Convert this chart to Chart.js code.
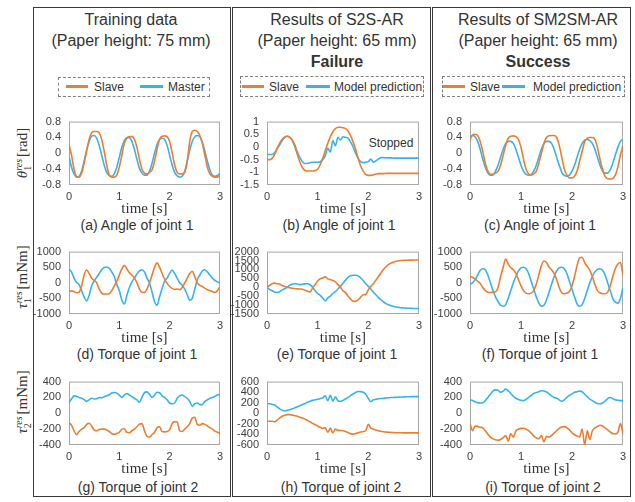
<!DOCTYPE html>
<html>
<head>
<meta charset="utf-8">
<script src="https://cdn.jsdelivr.net/npm/chart.js@4.4.1/dist/chart.umd.min.js"></script>
<style>
  body { margin: 0; width: 635px; height: 502px; position: relative; overflow: hidden; background: #fff;
         font-family: "Liberation Sans", Arial, sans-serif; color: #333; }
  .col { position: absolute; top: 7px; height: 490px; border: 1.3px solid #3a3a3a; box-sizing: border-box; }
  .title { position: absolute; font-size: 16px; line-height: 21px; text-align: center; white-space: nowrap; transform: translateX(-50%); }
  .legend { position: absolute; border: 1px dashed #808080; box-sizing: border-box; }
  .sw { position: absolute; height: 3px; }
  .lt { position: absolute; font-size: 12px; line-height: 14px; white-space: nowrap; transform: translateY(-50%); }
  .cap { position: absolute; font-size: 14px; white-space: nowrap; transform: translate(-50%, -50%); }
  .ylab { position: absolute; font-family: "Liberation Serif", serif; font-size: 15px; white-space: nowrap;
          transform: translate(-50%, -50%) rotate(-90deg); }
  .ss { display: inline-block; vertical-align: -4px; font-size: 10px; line-height: 9px; margin-right: 2px; }
  .ss span { display: block; }
  canvas { position: absolute; }
</style>
</head>
<body>
<div class="col" style="left:33px;width:198px"></div>
<div class="col" style="left:232px;width:199px"></div>
<div class="col" style="left:432px;width:199px"></div>

<div class="title" style="left:131px;top:9px">Training data<br>(Paper height: 75 mm)</div>
<div class="title" style="left:337px;top:9px">Results of S2S-AR<br>(Paper height: 65 mm)<br><b>Failure</b></div>
<div class="title" style="left:538px;top:9px">Results of SM2SM-AR<br>(Paper height: 65 mm)<br><b>Success</b></div>

<div class="legend" style="left:58px;top:77px;width:152px;height:20px"></div>
<div class="sw" style="left:66px;top:85px;width:22px;background:#ED7D31"></div>
<div class="lt" style="left:94px;top:87px">Slave</div>
<div class="sw" style="left:140px;top:85px;width:23px;background:#36B3EE"></div>
<div class="lt" style="left:168px;top:87px">Master</div>

<div class="legend" style="left:240px;top:76px;width:184px;height:21px"></div>
<div class="sw" style="left:242px;top:85px;width:22px;background:#ED7D31"></div>
<div class="lt" style="left:269px;top:87px">Slave</div>
<div class="sw" style="left:306px;top:85px;width:24px;background:#36B3EE"></div>
<div class="lt" style="left:334px;top:87px">Model prediction</div>

<div class="legend" style="left:442px;top:76px;width:183px;height:21px"></div>
<div class="sw" style="left:443px;top:85px;width:22px;background:#ED7D31"></div>
<div class="lt" style="left:470px;top:87px">Slave</div>
<div class="sw" style="left:502px;top:85px;width:23px;background:#36B3EE"></div>
<div class="lt" style="left:533px;top:87px">Model prediction</div>

<div class="ylab" style="left:23px;top:153px"><i>θ</i><span class="ss"><span><i>res</i></span><span>1</span></span>[rad]</div>
<div class="ylab" style="left:23px;top:277px"><i>τ</i><span class="ss"><span><i>res</i></span><span>1</span></span>[mNm]</div>
<div class="ylab" style="left:23px;top:402px"><i>τ</i><span class="ss"><span><i>res</i></span><span>2</span></span>[mNm]</div>

<div class="cap" style="left:137px;top:225px">(a) Angle of joint 1</div>
<div class="cap" style="left:339px;top:225px">(b) Angle of joint 1</div>
<div class="cap" style="left:540px;top:225px">(c) Angle of joint 1</div>
<div class="cap" style="left:137px;top:354px">(d) Torque of joint 1</div>
<div class="cap" style="left:337px;top:354px">(e) Torque of joint 1</div>
<div class="cap" style="left:540px;top:354px">(f) Torque of joint 1</div>
<div class="cap" style="left:138px;top:487px">(g) Torque of joint 2</div>
<div class="cap" style="left:341px;top:487px">(h) Torque of joint 2</div>
<div class="cap" style="left:543px;top:487px">(i) Torque of joint 2</div>

<div class="cap" style="left:391px;top:143px;font-size:12px">Stopped</div>

<script>
const timeSec = [0, 0.05, 0.1, 0.15, 0.2, 0.25, 0.3, 0.35, 0.4, 0.45, 0.5, 0.55, 0.6, 0.65, 0.7, 0.75, 0.8, 0.85, 0.9, 0.95,
    1, 1.05, 1.1, 1.15, 1.2, 1.25, 1.3, 1.35, 1.4, 1.45, 1.5, 1.55, 1.6, 1.65, 1.7, 1.75, 1.8, 1.85, 1.9, 1.95,
    2, 2.05, 2.1, 2.15, 2.2, 2.25, 2.3, 2.35, 2.4, 2.45, 2.5, 2.55, 2.6, 2.65, 2.7, 2.75, 2.8, 2.85, 2.9, 2.95, 3];
const timeTicks = [0, 1, 2, 3];

const angleTicks = [-0.8, -0.4, 0, 0.4, 0.8];
const angleFailTicks = [-1.5, -1, -0.5, 0, 0.5, 1];
const torque1Ticks = [-1000, -500, 0, 500, 1000];
const torque1FailTicks = [-1500, -1000, -500, 0, 500, 1000, 1500, 2000];
const torque2Ticks = [-400, -200, 0, 200, 400];
const torque2FailTicks = [-600, -400, -200, 0, 200, 400, 600];

// (a) training angle
const trainAngleSlave = [0.22, -0.05, -0.4, -0.58, -0.6, -0.5, -0.25, 0.05, 0.35, 0.52,
    0.55, 0.55, 0.52, 0.35, 0.05, -0.3, -0.55, -0.6, -0.6, -0.55,
    -0.35, -0.05, 0.25, 0.38, 0.42, 0.42, 0.35, 0.15, -0.15, -0.4,
    -0.5, -0.52, -0.48, -0.42, -0.2, 0.1, 0.35, 0.43, 0.44, 0.42,
    0.3, 0.02, -0.3, -0.48, -0.52, -0.52, -0.48, -0.2, 0.3, 0.55,
    0.58, 0.55, 0.45, 0.25, -0.05, -0.35, -0.52, -0.58, -0.6, -0.6, -0.55];
const trainAngleMaster = [-0.08, -0.35, -0.52, -0.6, -0.58, -0.45, -0.2, 0.08, 0.3, 0.43,
    0.45, 0.38, 0.2, -0.05, -0.3, -0.48, -0.56, -0.58, -0.52, -0.35,
    -0.1, 0.15, 0.32, 0.4, 0.39, 0.3, 0.1, -0.15, -0.38, -0.5,
    -0.55, -0.55, -0.45, -0.25, 0, 0.22, 0.35, 0.38, 0.35, 0.2,
    -0.05, -0.3, -0.48, -0.57, -0.6, -0.58, -0.45, -0.2, 0.08, 0.3,
    0.42, 0.45, 0.42, 0.28, 0.05, -0.2, -0.42, -0.55, -0.58, -0.56, -0.5];

// (b) S2S-AR angle
const s2sAngleSlave = [-0.5, -0.5, -0.45, -0.3, -0.05, 0.15, 0.3, 0.4, 0.42, 0.38,
    0.25, 0, -0.3, -0.6, -0.82, -0.93, -0.95, -0.95, -0.95, -0.93,
    -0.88, -0.7, -0.45, -0.15, 0.15, 0.4, 0.6, 0.72, 0.78, 0.78,
    0.76, 0.72, 0.62, 0.45, 0.2, -0.1, -0.45, -0.75, -0.95, -1.08,
    -1.12, -1.12, -1.1, -1.07, -1.05, -1.05, -1.05, -1.04, -1.04, -1.04,
    -1.04, -1.04, -1.04, -1.04, -1.04, -1.04, -1.04, -1.04, -1.04, -1.04, -1.04];
const s2sAnglePred = [-0.3, -0.3, -0.3, -0.22, -0.08, 0.08, 0.25, 0.38, 0.42, 0.38,
    0.28, 0.08, -0.2, -0.42, -0.58, -0.65, -0.65, -0.62, -0.6, -0.6,
    -0.6, -0.58, -0.5, -0.35, -0.05, -0.2, 0.25, 0.05, 0.38, 0.28,
    0.4, 0.38, 0.35, 0.2, 0, -0.25, -0.45, -0.58, -0.62, -0.6,
    -0.58, -0.48, -0.6, -0.55, -0.48, -0.42, -0.42, -0.43, -0.43, -0.43,
    -0.44, -0.44, -0.44, -0.44, -0.44, -0.44, -0.44, -0.44, -0.44, -0.44, -0.44];

// (c) SM2SM-AR angle
const sm2smAngleSlave = [0.35, 0.46, 0.48, 0.45, 0.3, 0.05, -0.25, -0.45, -0.53, -0.53,
    -0.5, -0.45, -0.3, -0.05, 0.2, 0.38, 0.43, 0.44, 0.42, 0.35,
    0.15, -0.15, -0.4, -0.52, -0.55, -0.52, -0.45, -0.25, 0, 0.25,
    0.4, 0.44, 0.45, 0.45, 0.4, 0.2, -0.1, -0.4, -0.55, -0.62,
    -0.62, -0.58, -0.45, -0.2, 0.05, 0.3, 0.38, 0.4, 0.4, 0.35,
    0.15, -0.15, -0.4, -0.58, -0.64, -0.65, -0.63, -0.55, -0.35, -0.05, 0.2];
const sm2smAnglePred = [0.4, 0.45, 0.42, 0.3, 0.1, -0.15, -0.35, -0.5, -0.55, -0.55,
    -0.45, -0.3, -0.1, 0.1, 0.25, 0.3, 0.3, 0.25, 0.1, -0.1,
    -0.3, -0.45, -0.53, -0.55, -0.53, -0.45, -0.3, -0.1, 0.1, 0.25,
    0.3, 0.3, 0.25, 0.1, -0.1, -0.3, -0.48, -0.56, -0.58, -0.55,
    -0.45, -0.3, -0.1, 0.1, 0.25, 0.33, 0.35, 0.32, 0.25, 0.1,
    -0.1, -0.3, -0.45, -0.5, -0.5, -0.42, -0.25, -0.05, 0.15, 0.3, 0.35];

// (d) training torque 1
const trainTorque1Slave = [-290, -260, -280, -320, -300, -100, 250, 410, 300, 150,
    80, 0, -200, -330, -360, -360, -350, -250, -100, 50,
    250, 450, 560, 450, 320, 250, 150, 0, -200, -300,
    -310, -200, 0, 250, 500, 640, 500, 300, 120, -20,
    -120, -180, -210, -200, -220, -150, 0, 150, 300, 370,
    200, 0, -80, -120, -180, -220, -250, -280, -310, -250, -130];
const trainTorque1Master = [450, 350, 150, 20, -60, -250, -450, -580, -400, -100,
    60, 180, 300, 420, 490, 505, 460, 350, 200, -50,
    -250, -550, -680, -400, -150, 20, 150, 280, 380, 420,
    350, 150, 0, -300, -600, -720, -450, -180, 50, 150,
    300, 410, 300, 150, 0, -80, -200, -380, -560, -500,
    -200, 100, 250, 380, 420, 350, 250, 150, 80, 30, 0];

// (e) S2S-AR torque 1
const s2sTorque1Slave = [0, 100, 200, 230, 200, 180, 100, 50, 0, -30,
    -60, -70, -90, -100, -110, -170, -220, -260, -50, 150,
    350, 480, 520, 580, 470, 440, 380, 300, 150, 0,
    -200, -300, -500, -650, -780, -790, -700, -550, -420, -400,
    -150, 50, 200, 400, 600, 800, 1000, 1150, 1280, 1360,
    1420, 1460, 1490, 1500, 1510, 1515, 1520, 1520, 1525, 1525, 1525];
const s2sTorque1Pred = [0, -120, -200, -260, -290, -250, -150, -80, 0, 120,
    170, 200, 180, 150, 170, 190, 200, 150, 0, -200,
    -350, -450, -600, -760, -600, -500, -350, -250, -100, 50,
    230, 400, 560, 640, 670, 670, 640, 520, 380, 200,
    50, -100, -280, -420, -580, -700, -820, -920, -980, -1040,
    -1080, -1110, -1130, -1150, -1160, -1170, -1180, -1185, -1190, -1190, -1195];

// (f) SM2SM-AR torque 1
const sm2smTorque1Slave = [200, 180, 120, 50, -20, -150, -250, -300, -310, -300,
    -290, -150, 200, 500, 760, 600, 480, 420, 300, 100,
    -100, -250, -330, -350, -330, -250, -50, 250, 550, 700,
    650, 500, 420, 300, 100, -150, -320, -350, -330, -280,
    -100, 200, 550, 800, 820, 650, 520, 400, 200, -50,
    -250, -320, -350, -350, -300, -100, 200, 450, 600, 650, 250];
const sm2smTorque1Pred = [-50, 0, 100, 250, 400, 450, 420, 250, 0, -250,
    -450, -600, -720, -750, -700, -500, -250, 0, 200, 380,
    480, 500, 450, 300, 50, -200, -450, -650, -750, -720,
    -550, -300, -50, 200, 380, 480, 500, 450, 300, 50,
    -200, -450, -680, -750, -700, -500, -250, 0, 200, 350,
    430, 450, 400, 250, 0, -250, -500, -620, -650, -500, -150];

// (g) training torque 2
const trainTorque2Slave = [-120, -150, -220, -270, -230, -200, -180, -140, -125, -160,
    -210, -220, -205, -200, -200, -210, -230, -255, -265, -255,
    -240, -200, -195, -240, -245, -220, -200, -170, -135, -130,
    -220, -290, -300, -270, -240, -180, -170, -230, -235, -230,
    -210, -130, -105, -110, -220, -230, -200, -170, -130, -60,
    -50, -140, -150, -130, -140, -160, -180, -200, -225, -240, -250];
const trainTorque2Master = [130, 180, 220, 215, 200, 190, 175, 150, 170, 190,
    180, 185, 200, 195, 210, 220, 235, 255, 262, 255,
    230, 200, 230, 250, 230, 210, 190, 170, 140, 200,
    260, 270, 240, 200, 230, 265, 260, 220, 200, 170,
    130, 120, 130, 190, 220, 230, 210, 190, 150, 90,
    120, 130, 110, 110, 150, 170, 190, 200, 215, 230, 240];

// (h) S2S-AR torque 2
const s2sTorque2Slave = [-150, -150, -150, -160, -130, -90, -55, -35, -25, -25,
    -35, -45, -57, -75, -90, -110, -135, -160, -190, -215,
    -240, -265, -285, -270, -360, -280, -370, -300, -320, -325,
    -330, -345, -365, -385, -395, -385, -370, -355, -345, -330,
    -210, -280, -300, -315, -330, -340, -350, -355, -360, -362,
    -365, -367, -368, -369, -370, -370, -370, -370, -370, -370, -370];
const s2sTorque2Pred = [180, 180, 170, 160, 120, 85, 60, 45, 55, 68,
    85, 105, 125, 145, 165, 185, 210, 230, 245, 255,
    265, 280, 290, 330, 240, 340, 230, 310, 240, 227,
    245, 270, 300, 335, 365, 395, 412, 410, 400, 360,
    280, 220, 255, 265, 275, 280, 283, 290, 295, 298,
    300, 302, 305, 308, 310, 312, 314, 315, 316, 316, 316];

// (i) SM2SM-AR torque 2
const sm2smTorque2Slave = [-130, -220, -160, -165, -175, -185, -220, -265, -300, -320,
    -335, -340, -330, -310, -280, -350, -260, -300, -220, -200,
    -190, -188, -200, -220, -250, -285, -310, -320, -280, -360,
    -290, -300, -280, -250, -220, -190, -172, -168, -180, -210,
    -245, -270, -285, -300, -200, -400, -220, -330, -220, -185,
    -165, -150, -160, -185, -210, -235, -255, -260, -240, -130, -260];
const sm2smTorque2Pred = [170, 160, 145, 135, 130, 132, 160, 200, 240, 280,
    295, 290, 265, 280, 305, 285, 250, 215, 190, 175,
    165, 160, 175, 200, 225, 250, 262, 272, 285, 282,
    268, 245, 220, 200, 190, 170, 152, 170, 200, 225,
    245, 265, 272, 280, 272, 240, 210, 180, 160, 140,
    125, 120, 130, 155, 185, 200, 185, 170, 165, 160, 160];

Chart.defaults.font.family = '"Liberation Sans", Arial, sans-serif';
Chart.defaults.color = "#404040";

const slaveColor = "#ED7D31";
const otherColor = "#36B3EE";

const PLOT_X = [[69, 220], [267, 419], [470, 623]];
const PLOT_Y = [[115, 185], [245, 314], [375, 445]];
const Y_AXIS_W = 44;
const X_AXIS_H = 33;
const PAD = 8;

// grey box round the plot area
const plotFrame = {
    id: "plotFrame",
    beforeDatasetsDraw(chart) {
        const { ctx, chartArea: a } = chart;
        ctx.save();
        ctx.strokeStyle = "#a6a6a6";
        ctx.lineWidth = 1;
        ctx.strokeRect(a.left + 0.5, a.top + 0.5, a.width - 1, a.height - 1);
        ctx.restore();
    },
};

function toPoints(values) {
    return values.map((v, i) => ({ x: timeSec[i], y: v }));
}

function makePanel(col, row, yTicks, slave, other, otherLabel) {
    const [left, right] = PLOT_X[col];
    const [top, bottom] = PLOT_Y[row];
    const canvas = document.createElement("canvas");
    canvas.width = right - left + Y_AXIS_W + PAD;
    canvas.height = bottom - top + PAD + X_AXIS_H;
    canvas.style.left = left - Y_AXIS_W + "px";
    canvas.style.top = top - PAD + "px";
    document.body.appendChild(canvas);

    new Chart(canvas.getContext("2d"), {
        type: "line",
        data: {
            datasets: [
                {
                    label: "Slave",
                    data: toPoints(slave),
                    borderColor: slaveColor,
                    borderWidth: 1.6,
                    pointRadius: 0,
                    cubicInterpolationMode: "monotone",
                },
                {
                    label: otherLabel,
                    data: toPoints(other),
                    borderColor: otherColor,
                    borderWidth: 1.6,
                    pointRadius: 0,
                    cubicInterpolationMode: "monotone",
                },
            ],
        },
        options: {
            responsive: false,
            animation: false,
            layout: { padding: { top: PAD, right: PAD, left: 0, bottom: 0 } },
            plugins: { legend: { display: false }, tooltip: { enabled: false } },
            scales: {
                x: {
                    type: "linear",
                    min: timeTicks[0],
                    max: timeTicks[timeTicks.length - 1],
                    afterBuildTicks: (s) => { s.ticks = timeTicks.map((v) => ({ value: v })); },
                    afterFit: (s) => { s.height = X_AXIS_H; },
                    grid: { display: false, drawTicks: false },
                    border: { display: false },
                    ticks: { padding: 5, autoSkip: false, maxRotation: 0, font: { size: 11 }, callback: (v) => String(v) },
                    title: {
                        display: true,
                        text: "time [s]",
                        padding: 0,
                        color: "#333",
                        font: { family: '"Liberation Serif", serif', size: 15 },
                    },
                },
                y: {
                    type: "linear",
                    min: yTicks[0],
                    max: yTicks[yTicks.length - 1],
                    afterBuildTicks: (s) => { s.ticks = yTicks.map((v) => ({ value: v })); },
                    afterFit: (s) => { s.width = Y_AXIS_W; },
                    grid: { display: false, drawTicks: false },
                    border: { display: false },
                    ticks: { padding: 8, autoSkip: false, font: { size: 11 }, callback: (v) => String(v) },
                },
            },
        },
        plugins: [plotFrame],
    });
}

makePanel(0, 0, angleTicks, trainAngleSlave, trainAngleMaster, "Master");
makePanel(1, 0, angleFailTicks, s2sAngleSlave, s2sAnglePred, "Model prediction");
makePanel(2, 0, angleTicks, sm2smAngleSlave, sm2smAnglePred, "Model prediction");
makePanel(0, 1, torque1Ticks, trainTorque1Slave, trainTorque1Master, "Master");
makePanel(1, 1, torque1FailTicks, s2sTorque1Slave, s2sTorque1Pred, "Model prediction");
makePanel(2, 1, torque1Ticks, sm2smTorque1Slave, sm2smTorque1Pred, "Model prediction");
makePanel(0, 2, torque2Ticks, trainTorque2Slave, trainTorque2Master, "Master");
makePanel(1, 2, torque2FailTicks, s2sTorque2Slave, s2sTorque2Pred, "Model prediction");
makePanel(2, 2, torque2Ticks, sm2smTorque2Slave, sm2smTorque2Pred, "Model prediction");
</script>
</body>
</html>
